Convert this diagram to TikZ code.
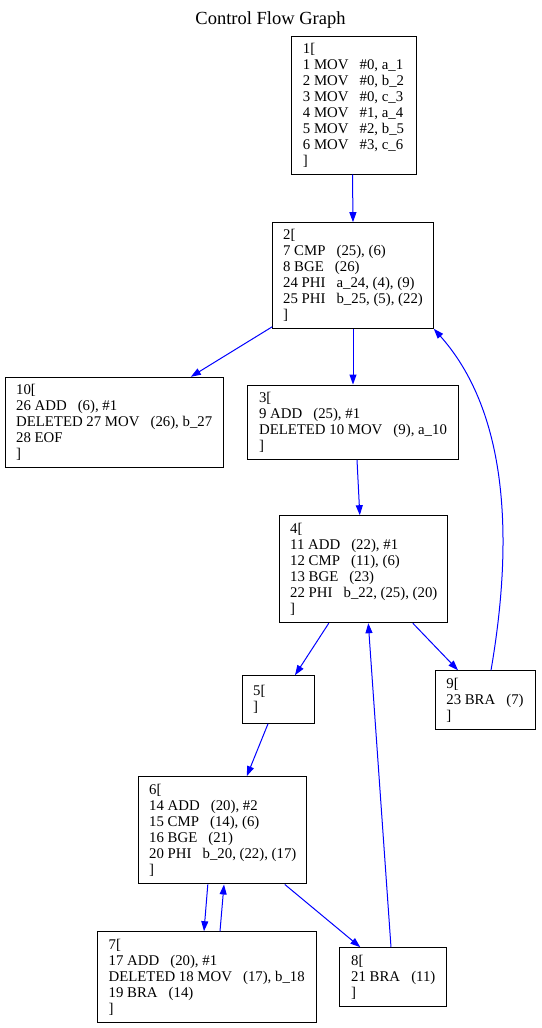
\documentclass[tikz,border=0pt]{standalone}
\usepackage{fontspec}
\setmainfont{Liberation Serif}
\usepackage{tikz}
\usetikzlibrary{arrows.meta}
\usetikzlibrary{calc}

% gap between opcode and operands
\newcommand{\opgap}{\ \ \ }

\begin{document}
\begin{tikzpicture}[x=1pt, y=-1pt,
    every node/.style={font=\fontsize{14.8}{16}\selectfont, inner sep=0pt},
    block/.style={draw=black, line width=1pt, align=left},
    flow/.style={draw=blue, line width=1pt, -{Triangle[length=10pt, width=7pt]}}]

        \useasboundingbox (0, 0) rectangle (541, 1028);

        % Title
        \node[font=\fontsize{18.5}{20}\selectfont] (title) at (270.5, 20) {Control Flow Graph};

        % Basic blocks
        \node[block, minimum width=125pt, minimum height=138pt] (b1) at (353.5, 105)
          {1[\\1 MOV\opgap\#0, a\_1\\2 MOV\opgap\#0, b\_2\\3 MOV\opgap\#0, c\_3\\4 MOV\opgap\#1, a\_4\\5 MOV\opgap\#2, b\_5\\6 MOV\opgap\#3, c\_6\\]};
        \node[block, minimum width=160.6pt, minimum height=105.6pt] (b2) at (353, 275.5)
          {2[\\7 CMP\opgap(25), (6)\\8 BGE\opgap(26)\\24 PHI\opgap a\_24, (4), (9)\\25 PHI\opgap b\_25, (5), (22)\\]};
        \node[block, minimum width=218.3pt, minimum height=90pt] (b10) at (114.2, 422.3)
          {10[\\26 ADD\opgap(6), \#1\\DELETED 27 MOV\opgap(26), b\_27\\28 EOF\\]};
        \node[block, minimum width=210.6pt, minimum height=74.3pt] (b3) at (353, 422.2)
          {3[\\9 ADD\opgap(25), \#1\\DELETED 10 MOV\opgap(9), a\_10\\]};
        \node[block, minimum width=167.7pt, minimum height=107pt] (b4) at (363.8, 569.2)
          {4[\\11 ADD\opgap(22), \#1\\12 CMP\opgap(11), (6)\\13 BGE\opgap(23)\\22 PHI\opgap b\_22, (25), (20)\\]};
        \node[block, minimum width=71.6pt, minimum height=47.6pt, text width=50.6pt] (b5) at (278.5, 699.5)
          {5[\\]};
        \node[block, minimum width=100pt, minimum height=58.3pt] (b9) at (485, 699.9)
          {9[\\23 BRA\opgap(7)\\]};
        \node[block, minimum width=167.7pt, minimum height=107.3pt] (b6) at (222.8, 830.3)
          {6[\\14 ADD\opgap(20), \#2\\15 CMP\opgap(14), (6)\\16 BGE\opgap(21)\\20 PHI\opgap b\_20, (22), (17)\\]};
        \node[block, minimum width=218.7pt, minimum height=90.6pt] (b7) at (206.7, 977)
          {7[\\17 ADD\opgap(20), \#1\\DELETED 18 MOV\opgap(17), b\_18\\19 BRA\opgap(14)\\]};
        \node[block, minimum width=106.7pt, minimum height=59pt] (b8) at (393.3, 977.2)
          {8[\\21 BRA\opgap(11)\\]};

        % Edges between blocks
        \draw[flow] ([xshift=-1pt]b1.south) -- (b2.north);
        \draw[flow] ([yshift=2pt]b2.south west) -- ([xshift=-33pt]b10.north east);
        \draw[flow] (b2.south) -- (b3.north);
        \draw[flow] ([xshift=4pt]b3.south) -- ([xshift=-4pt]b4.north);
        \draw[flow] ([xshift=-35pt]b4.south) -- ([xshift=16.5pt]b5.north);
        \draw[flow] ([xshift=49pt]b4.south) -- ([xshift=-27pt]b9.north);
        \draw[flow] ([xshift=6pt]b9.north) .. controls (510, 560) and (515, 420) .. (b2.south east);
        \draw[flow] ([xshift=-10.5pt]b5.south) -- ([xshift=24pt]b6.north);
        \draw[flow] ([xshift=-15pt]b6.south) -- ([xshift=-2.7pt]b7.north);
        \draw[flow] ([xshift=13.3pt]b7.north) -- ([xshift=1.2pt]b6.south);
        \draw[flow] ([xshift=62pt]b6.south) -- ([xshift=-33pt]b8.north);
        \draw[flow] ([xshift=-2.3pt]b8.north) -- ([xshift=4.5pt]b4.south);

      \end{tikzpicture}
\end{document}
